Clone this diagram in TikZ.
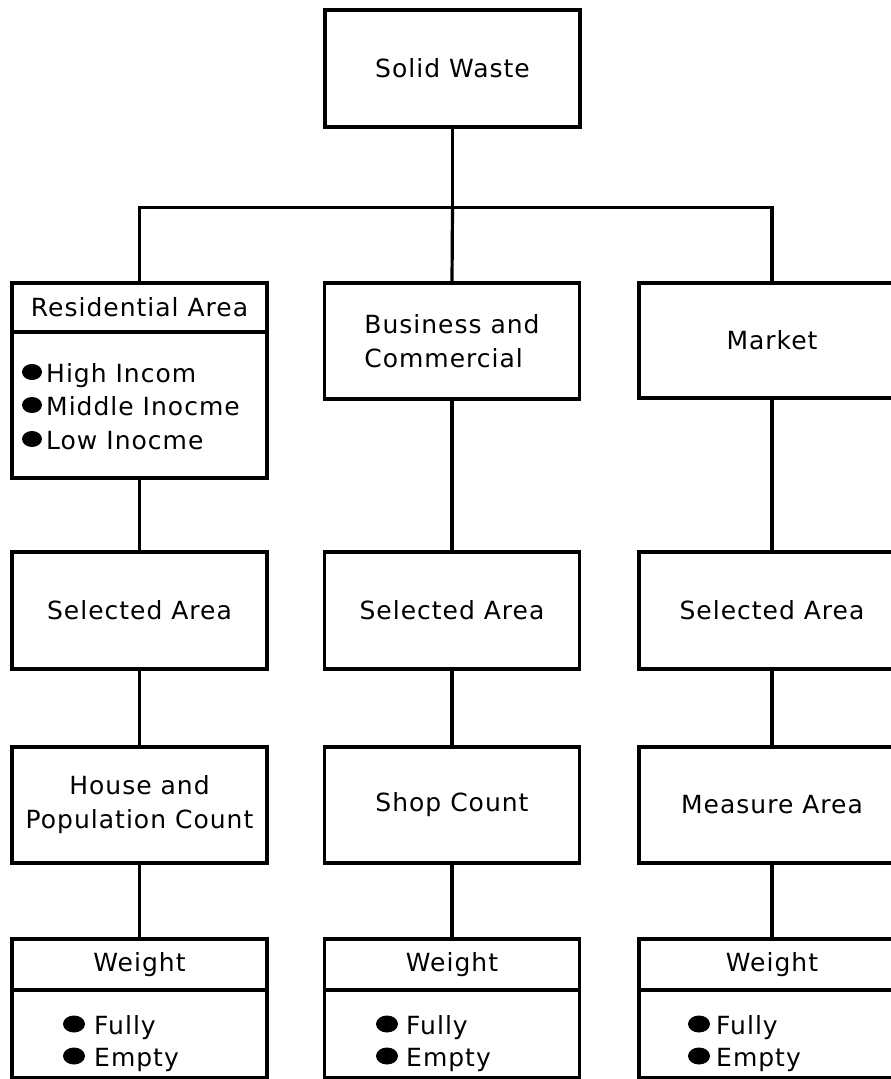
\documentclass[tikz,border=0pt]{standalone}
\usepackage{fontspec}
\setmainfont{DejaVu Sans}[LetterSpace=4]
\begin{document}
\begin{tikzpicture}[x=1pt,y=-1pt,
  box/.style={draw, line width=3.2pt, rectangle, inner sep=0pt, align=center,
    minimum width=255, font=\fontsize{25}{34}\selectfont},
  txt/.style={inner sep=0pt, font=\fontsize{25}{34}\selectfont},
  conn/.style={line width=3.2pt},
  bul/.style={fill=black}]
\useasboundingbox (0,0) rectangle (891,1079);
\clip (0,0) rectangle (891,1079);
% top
\node[box, minimum height=117] (sw) at (452.5,68.5) {Solid Waste};
% row 2
\node[box, minimum height=49] (resh) at (139.5,307.5) {Residential Area};
\node[box, minimum height=146] (resb) at (139.5,405) {};
\node[box, minimum height=116, align=left] (bus) at (452,341) {Business and\\Commercial};
\node[box, minimum height=115, minimum width=266] (mkt) at (772,340.5) {Market};
% residential items
\fill[bul] (32,372) ellipse [x radius=10, y radius=8];
\fill[bul] (32,405) ellipse [x radius=10, y radius=8];
\fill[bul] (32,439) ellipse [x radius=10, y radius=8];
\node[txt, anchor=base west] (hi) at (46,382) {High Incom};
\node[txt, anchor=base west] (mi) at (46,415) {Middle Inocme};
\node[txt, anchor=base west] (lo) at (46,449) {Low Inocme};
% row 3
\node[box, minimum height=117] (sa1) at (139.5,610.5) {Selected Area};
\node[box, minimum height=117] (sa2) at (452,610.5) {Selected Area};
\node[box, minimum height=117, minimum width=266] (sa3) at (772,610.5) {Selected Area};
% row 4
\node[box, minimum height=116] (hp) at (139.5,805) {House and\\Population Count};
\node[box, minimum height=116] (sc) at (452,805) {Shop Count};
\node[box, minimum height=116, minimum width=266] (ma) at (772,805) {Measure Area};
% row 5
\node[box, minimum height=51] (w1h) at (139.5,964.5) {Weight};
\node[box, minimum height=88] (w1b) at (139.5,1034) {};
\node[box, minimum height=51] (w2h) at (452,964.5) {Weight};
\node[box, minimum height=88] (w2b) at (452,1034) {};
\node[box, minimum height=51, minimum width=266] (w3h) at (772,964.5) {Weight};
\node[box, minimum height=88, minimum width=266] (w3b) at (772,1034) {};
% weight items
\fill[bul] (74,1024) ellipse [x radius=11, y radius=8.5];
\fill[bul] (74,1056) ellipse [x radius=11, y radius=8.5];
\node[txt, anchor=base west] (f1) at (94,1034) {Fully};
\node[txt, anchor=base west] (e1) at (94,1066) {Empty};
\fill[bul] (387,1024) ellipse [x radius=11, y radius=8.5];
\fill[bul] (387,1056) ellipse [x radius=11, y radius=8.5];
\node[txt, anchor=base west] (f2) at (406,1034) {Fully};
\node[txt, anchor=base west] (e2) at (406,1066) {Empty};
\fill[bul] (699,1024) ellipse [x radius=11, y radius=8.5];
\fill[bul] (699,1056) ellipse [x radius=11, y radius=8.5];
\node[txt, anchor=base west] (f3) at (716,1034) {Fully};
\node[txt, anchor=base west] (e3) at (716,1066) {Empty};
% connectors
\draw[conn] (sw.south) -- ++(0,79) coordinate (j);
\draw[conn] (resh.north) |- (j) -| (mkt.north);
\draw[conn] (j) -- (bus.north);
\draw[conn] (resb.south) -- (sa1.north);
\draw[conn] (bus.south) -- (sa2.north);
\draw[conn] (mkt.south) -- (sa3.north);
\draw[conn] (sa1.south) -- (hp.north);
\draw[conn] (sa2.south) -- (sc.north);
\draw[conn] (sa3.south) -- (ma.north);
\draw[conn] (hp.south) -- (w1h.north);
\draw[conn] (sc.south) -- (w2h.north);
\draw[conn] (ma.south) -- (w3h.north);
\end{tikzpicture}
\end{document}
